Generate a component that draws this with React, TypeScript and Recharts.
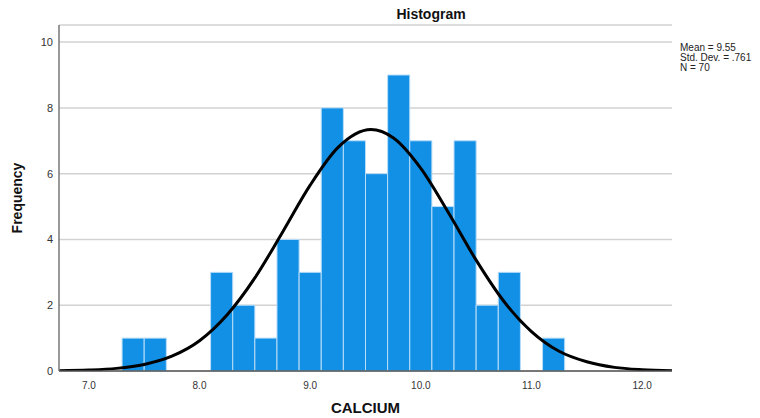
import React from "react"
import { ComposedChart, Line, XAxis, YAxis, CartesianGrid, ReferenceArea, Label } from "recharts"

// histogram bins (CALCIUM), width 0.2
const binStarts = [7.3, 7.5, 8.1, 8.3, 8.5, 8.7, 8.9, 9.1, 9.3, 9.5, 9.7, 9.9, 10.1, 10.3, 10.5, 10.7, 11.1]
const binCounts = [1, 1, 3, 2, 1, 4, 3, 8, 7, 6, 9, 7, 5, 7, 2, 3, 1]
const binWidth = 0.2

// normal curve
const curveX = [6.73, 7.0, 7.25, 7.5, 7.75, 8.0, 8.25, 8.5, 8.75, 9.0, 9.25, 9.55, 9.75, 10.0, 10.25, 10.5, 10.75, 11.0, 11.25, 11.5, 11.75, 12.0, 12.27]
const curveY = [0.01, 0.03, 0.08, 0.2, 0.45, 0.92, 1.71, 2.83, 4.22, 5.65, 6.79, 7.34, 7.09, 6.16, 4.81, 3.37, 2.12, 1.2, 0.6, 0.28, 0.11, 0.04, 0.01]

const xTicks = [7, 8, 9, 10, 11, 12]
const yTicks = [0, 2, 4, 6, 8, 10]

const statLines = ["Mean = 9.55", "Std. Dev. = .761", "N = 70"]

const curveData = curveX.map((x, i) => ({ x, y: curveY[i] }))

const font = '"Liberation Sans", Arial, sans-serif'

export default function App() {
    return (
        <div style={{ position: 'absolute', left: 0, top: 0, width: 760, height: 418, background: '#fff', fontFamily: font }}>
            <ComposedChart
                width={760}
                height={418}
                data={curveData}
                margin={{ top: 25, right: 88, left: 0, bottom: 0 }}
            >
                <CartesianGrid vertical={false} stroke="#d2d2d2" strokeWidth={1.5} />
                <XAxis
                    type="number"
                    dataKey="x"
                    domain={[6.73, 12.27]}
                    ticks={xTicks}
                    allowDataOverflow
                    tickFormatter={(v: number) => v.toFixed(1)}
                    tickLine={false}
                    tickSize={0}
                    tickMargin={11}
                    height={47}
                    axisLine={{ stroke: '#555', strokeWidth: 1.5 }}
                    tick={{ fill: '#333', fontSize: 10, fontFamily: font }}
                >
                    <Label value="CALCIUM" position="insideBottom" offset={5} style={{ fontSize: 15, fontWeight: 'bold', fill: '#111', fontFamily: font }} />
                </XAxis>
                <YAxis
                    type="number"
                    domain={[0, 10.52]}
                    ticks={yTicks}
                    allowDataOverflow
                    tickLine={false}
                    tickSize={0}
                    tickMargin={6}
                    width={59}
                    axisLine={{ stroke: '#777', strokeWidth: 1.5 }}
                    tick={{ fill: '#333', fontSize: 11, fontFamily: font }}
                >
                    <Label value="Frequency" angle={-90} position="insideLeft" offset={17} style={{ fontSize: 14, fontWeight: 'bold', fill: '#111', fontFamily: font, textAnchor: 'middle' }} />
                </YAxis>
                {binStarts.map((start, i) => (
                    <ReferenceArea
                        key={`bin-${i}`}
                        x1={start}
                        x2={start + binWidth}
                        y1={0}
                        y2={binCounts[i]}
                        fill="#1290e6"
                        fillOpacity={1}
                        stroke="#b9ddf8"
                        strokeWidth={1}
                    />
                ))}
                <Line
                    type="monotone"
                    dataKey="y"
                    stroke="#000"
                    strokeWidth={3}
                    dot={false}
                    isAnimationActive={false}
                />
            </ComposedChart>
            <div style={{ position: 'absolute', left: 0, width: 862, top: 6, textAlign: 'center', fontSize: 14, fontWeight: 'bold', color: '#111' }}>
                Histogram
            </div>
            <div style={{ position: 'absolute', left: 680, top: 43, fontSize: 10, lineHeight: '10px', color: '#222' }}>
                {statLines.map(s => <div key={s}>{s}</div>)}
            </div>
        </div>
    )
}
